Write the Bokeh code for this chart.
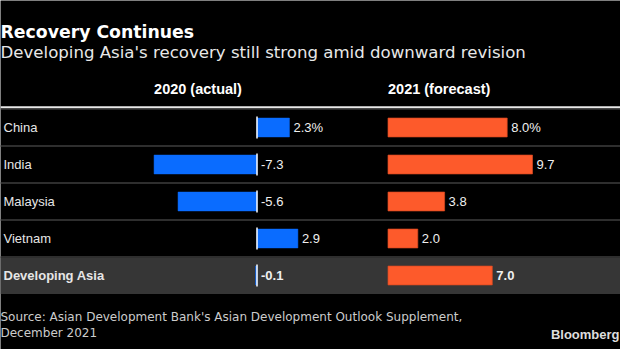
from bokeh.plotting import figure
from bokeh.models import ColumnDataSource, Range1d, Label
from bokeh.core.properties import value
from bokeh.embed import file_html
from bokeh.resources import INLINE

# ---- data ----
categories = ["China", "India", "Malaysia", "Vietnam", "Developing Asia"]
actual_2020 = [2.3, -7.3, -5.6, 2.9, -0.1]
forecast_2021 = [8.0, 9.7, 3.8, 2.0, 7.0]
label_2020 = ["2.3%", "-7.3", "-5.6", "2.9", "-0.1"]
label_2021 = ["8.0%", "9.7", "3.8", "2.0", "7.0"]
header_2020 = "2020 (actual)"
header_2021 = "2021 (forecast)"
title_text = "Recovery Continues"
subtitle_text = "Developing Asia's recovery still strong amid downward revision"
source_lines = ["Source: Asian Development Bank's Asian Development Outlook Supplement,",
                "December 2021"]
brand = "Bloomberg"

W, H = 620, 349
BLUE = "#0a6cff"
ORANGE = "#fd5a2b"
HEAD = "DejaVu Sans"
SANS = "Liberation Sans"

rows = list(range(len(categories)))
n = len(rows)
styles = ["normal"] * (n - 1) + ["bold"]

# scales: blue panel zero at ~256.5px, ~14.1 px/unit; orange panel zero at ~387.5px, ~14.9 px/unit
bx0, bs = 256.5, 14.1
ox0, os_ = 387.5, 14.9
row_px, first_row_px = 37.0, 127.0

p = figure(width=W, height=H, output_backend="svg", toolbar_location=None,
           x_axis_type=None, y_axis_type=None, min_border=0,
           x_range=Range1d(-bx0 / bs, (W - bx0) / bs),
           y_range=Range1d((H - first_row_px) / row_px, -first_row_px / row_px))
p.extra_x_ranges = {"o": Range1d(-ox0 / os_, (W - ox0) / os_)}
p.background_fill_color = "black"
p.border_fill_color = "black"
p.outline_line_color = None
p.grid.visible = False

src = ColumnDataSource(dict(
    y=rows, cat=categories, a=actual_2020, f=forecast_2021,
    la=label_2020, lf=label_2021, style=styles,
    zero=[0] * n,
    la_x=[max(v, 0) for v in actual_2020],
    zl0=[r - 0.3 for r in rows], zl1=[r + 0.3 for r in rows],
))

xl, xr = p.x_range.start, p.x_range.end

# highlighted last row background
last = rows[-1]
p.quad(left=[xl], right=[xr], bottom=[last - 0.5], top=[last + 0.5],
       fill_color="#363636", line_color=None)

# row separators
p.segment(x0=[xl] * (n - 1), x1=[xr] * (n - 1),
          y0=[r + 0.5 for r in rows[:-1]], y1=[r + 0.5 for r in rows[:-1]],
          line_color="#2e2e2e", line_width=2)
# header rule
p.segment(x0=[xl], x1=[xr], y0=[rows[0] - 0.55], y1=[rows[0] - 0.55],
          line_color="#e8e8e8", line_width=2)
p.segment(x0=[xl], x1=[xr], y0=[rows[0] - 0.5], y1=[rows[0] - 0.5],
          line_color="#555555", line_width=1)

# bars
p.hbar(y="y", left="zero", right="a", height=0.51, source=src,
       fill_color=BLUE, line_color=BLUE, line_width=0.5)
p.hbar(y="y", left="zero", right="f", height=0.51, source=src,
       fill_color=ORANGE, line_color="#d9481f", line_width=0.7, x_range_name="o")

# zero line for 2020 panel
p.segment(x0="zero", x1="zero", y0="zl0", y1="zl1", source=src,
          line_color="white", line_width=1.5)

# value labels
p.text(x="la_x", y="y", text="la", source=src, x_offset=4,
       text_font=value(SANS), text_font_size="13px", text_color="#f0f0f0",
       text_baseline="middle", text_align="left", text_font_style="style")
p.text(x="f", y="y", text="lf", source=src, x_offset=4, x_range_name="o",
       text_font=value(SANS), text_font_size="13px", text_color="#f0f0f0",
       text_baseline="middle", text_align="left", text_font_style="style")

# row labels
for r, c, st in zip(rows, categories, styles):
    p.add_layout(Label(x=3, x_units="screen", y=r, text=c, text_font=SANS,
                       text_font_size="13px", text_color="#e6e6e6",
                       text_baseline="middle", text_font_style=st))

# column headers
p.add_layout(Label(x=min(actual_2020), y=rows[0] - 1.03, text=header_2020,
                   text_font=SANS, text_font_size="14.5px", text_font_style="bold",
                   text_color="white", text_baseline="middle"))
p.add_layout(Label(x=0, x_range_name="o", y=rows[0] - 1.03, text=header_2021,
                   text_font=SANS, text_font_size="14.5px", text_font_style="bold",
                   text_color="white", text_baseline="middle"))

# title / subtitle
p.add_layout(Label(x=0, x_units="screen", y=H - 31, y_units="screen", text=title_text,
                   text_font=HEAD, text_font_size="17.3px", text_font_style="bold",
                   text_color="white", text_baseline="middle"))
p.add_layout(Label(x=0, x_units="screen", y=H - 51.5, y_units="screen", text=subtitle_text,
                   text_font=HEAD, text_font_size="16.6px",
                   text_color="#e8e8e8", text_baseline="middle"))

# footer
p.add_layout(Label(x=0, x_units="screen", y=H - 316, y_units="screen", text=source_lines[0],
                   text_font=HEAD, text_font_size="12px", text_color="#cccccc",
                   text_baseline="middle"))
p.add_layout(Label(x=0, x_units="screen", y=H - 332, y_units="screen", text=source_lines[1],
                   text_font=HEAD, text_font_size="12px", text_color="#cccccc",
                   text_baseline="middle"))
p.add_layout(Label(x=W - 1, x_units="screen", y=H - 333.5, y_units="screen", text=brand,
                   text_font=SANS, text_font_size="13px", text_font_style="bold",
                   text_color="#dddddd", text_align="right", text_baseline="middle"))

open("out.html", "w").write(file_html(p, INLINE))
